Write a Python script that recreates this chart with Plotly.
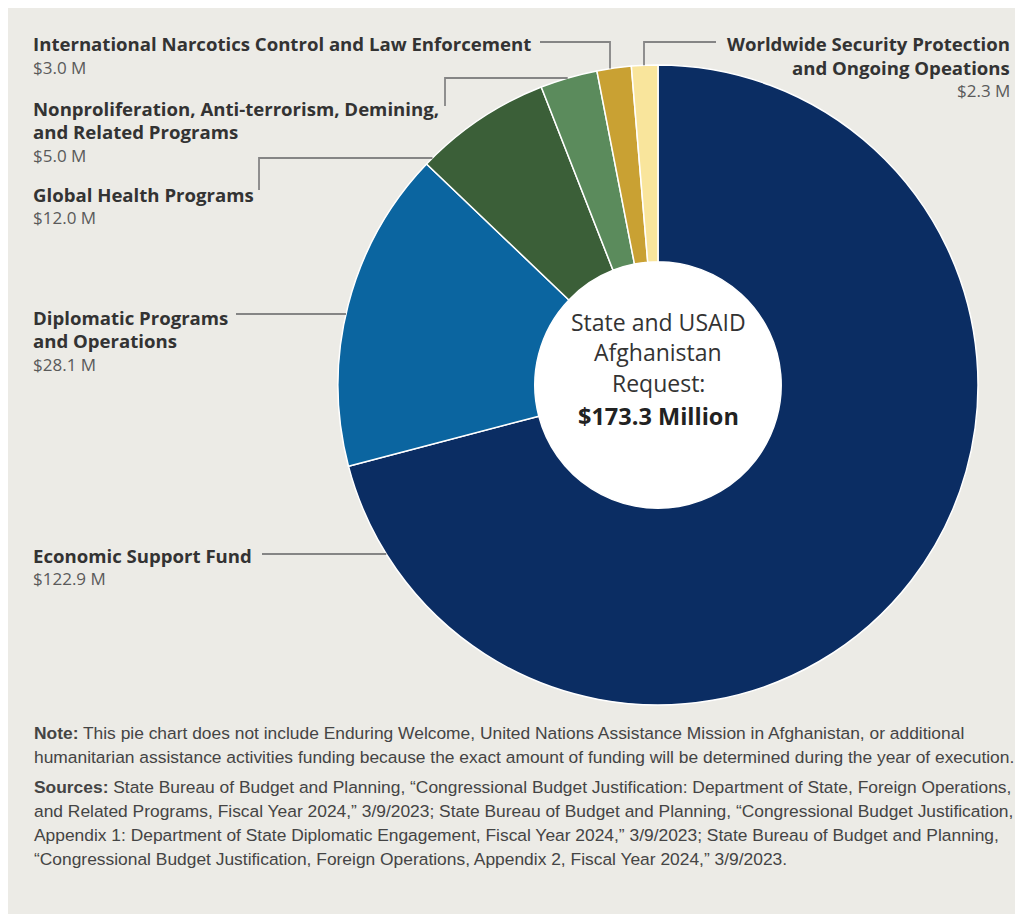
import math
import plotly.graph_objects as go

# ---------------- data ----------------
categories = [
    "Economic Support Fund",
    "Diplomatic Programs and Operations",
    "Global Health Programs",
    "Nonproliferation, Anti-terrorism, Demining, and Related Programs",
    "International Narcotics Control and Law Enforcement",
    "Worldwide Security Protection and Ongoing Opeations",
]
values = [122.9, 28.1, 12.0, 5.0, 3.0, 2.3]
label_lines = [
    ["Economic Support Fund"],
    ["Diplomatic Programs", "and Operations"],
    ["Global Health Programs"],
    ["Nonproliferation, Anti-terrorism, Demining,", "and Related Programs"],
    ["International Narcotics Control and Law Enforcement"],
    ["Worldwide Security Protection", "and Ongoing Opeations"],
]
value_labels = ["$122.9 M", "$28.1 M", "$12.0 M", "$5.0 M", "$3.0 M", "$2.3 M"]
center_lines = ["State and USAID", "Afghanistan", "Request:"]
total_label = "$173.3 Million"
note_lines = [
    ("Note:", " This pie chart does not include Enduring Welcome, United Nations Assistance Mission in Afghanistan, or additional"),
    ("", "humanitarian assistance activities funding because the exact amount of funding will be determined during the year of execution."),
]
source_lines = [
    ("Sources:", " State Bureau of Budget and Planning, \u201cCongressional Budget Justification: Department of State, Foreign Operations,"),
    ("", "and Related Programs, Fiscal Year 2024,\u201d 3/9/2023; State Bureau of Budget and Planning, \u201cCongressional Budget Justification,"),
    ("", "Appendix 1: Department of State Diplomatic Engagement, Fiscal Year 2024,\u201d 3/9/2023; State Bureau of Budget and Planning,"),
    ("", "\u201cCongressional Budget Justification, Foreign Operations, Appendix 2, Fiscal Year 2024,\u201d 3/9/2023."),
]

# ---------------- styles / layout ----------------
colors = ["#0b2d63", "#0b65a0", "#3b5f38", "#5b8b5c", "#c9a133", "#f9e59c"]
W, H = 1023, 914
OFF = 8  # page body margin
BG = "#ecebe6"
CX, CY, R = 658, 385, 320
HOLE = 0.385
LABEL_FONT = "Open Sans"
NOTE_FONT = "Liberation Sans"


def px(x):
    return (x - OFF) / W


def py(y):
    return 1 - (y - OFF) / H


placements = [
    dict(x=31, y=555, anchor="left", path=[(262, 554)], end="h"),
    dict(x=31, y=317, anchor="left", path=[(236, 314)], end="h"),
    dict(x=31, y=194, anchor="left", path=[(259, 190), (259, 158)], end="h"),
    dict(x=31, y=108, anchor="left", path=[(445, 106), (445, 78)], end="h"),
    dict(x=31, y=44, anchor="left", path=[(540, 42), (610, 42)], end="v"),
    dict(x=1012, y=44, anchor="right", path=[(716, 42), (644, 42)], end="v"),
]
LINE_STEP = 23.5

fig = go.Figure(
    go.Pie(
        labels=categories,
        values=values,
        marker=dict(colors=colors, line=dict(color="#ffffff", width=1.5)),
        sort=False,
        direction="clockwise",
        rotation=0,
        hole=HOLE,
        textinfo="none",
        domain=dict(x=[px(CX - R), px(CX + R)], y=[py(CY + R), py(CY - R)]),
        showlegend=False,
    )
)

shapes = []
annotations = []

hr = R * HOLE + 2
shapes.append(dict(type="circle", xref="paper", yref="paper", layer="below",
                   x0=px(CX - hr), x1=px(CX + hr), y0=py(CY + hr), y1=py(CY - hr),
                   fillcolor="#ffffff", line=dict(width=0)))

for lines, val, pl in zip(label_lines, value_labels, placements):
    y = pl["y"]
    for ln in lines:
        annotations.append(dict(x=px(pl["x"]), y=py(y), xref="paper", yref="paper",
                                text="<b>" + ln + "</b>", showarrow=False,
                                xanchor=pl["anchor"], yanchor="middle",
                                font=dict(family=LABEL_FONT, size=18.6, color="#333333")))
        y += LINE_STEP
    annotations.append(dict(x=px(pl["x"]), y=py(y), xref="paper", yref="paper",
                            text=val, showarrow=False, xanchor=pl["anchor"], yanchor="middle",
                            font=dict(family=LABEL_FONT, size=17, color="#5a5a5a")))
    pts = list(pl["path"])
    lx, ly = pts[-1]
    if pl["end"] == "h":
        ex = CX - math.sqrt(R * R - (ly - CY) ** 2)
        pts.append((ex, ly))
    else:
        ey = CY - math.sqrt(R * R - (lx - CX) ** 2)
        pts.append((lx, ey))
    d = "M " + " L ".join(f"{px(a):.5f},{py(b):.5f}" for a, b in pts)
    shapes.append(dict(type="path", xref="paper", yref="paper", path=d,
                       line=dict(color="#858585", width=1.8)))

cy_lines = [322, 352, 383]
for ln, yy in zip(center_lines, cy_lines):
    annotations.append(dict(x=px(CX), y=py(yy), xref="paper", yref="paper", text=ln,
                            showarrow=False, xanchor="center", yanchor="middle",
                            font=dict(family=LABEL_FONT, size=23, color="#333333")))
annotations.append(dict(x=px(CX), y=py(416), xref="paper", yref="paper",
                        text="<b>" + total_label + "</b>", showarrow=False,
                        xanchor="center", yanchor="middle",
                        font=dict(family=LABEL_FONT, size=23.5, color="#222222")))

note_y = [733, 757, 787, 811, 835, 859]
for (bold, rest), yy in zip(note_lines + source_lines, note_y):
    txt = ("<b>" + bold + "</b>" if bold else "") + rest
    annotations.append(dict(x=px(32), y=py(yy), xref="paper", yref="paper", text=txt,
                            showarrow=False, xanchor="left", yanchor="middle",
                            font=dict(family=NOTE_FONT, size=17.4, color="#444444")))

fig.update_layout(
    width=W, height=H,
    margin=dict(l=0, r=0, t=0, b=0),
    paper_bgcolor=BG, plot_bgcolor=BG,
    shapes=shapes, annotations=annotations,
    showlegend=False,
)

fig.write_html("out.html")
